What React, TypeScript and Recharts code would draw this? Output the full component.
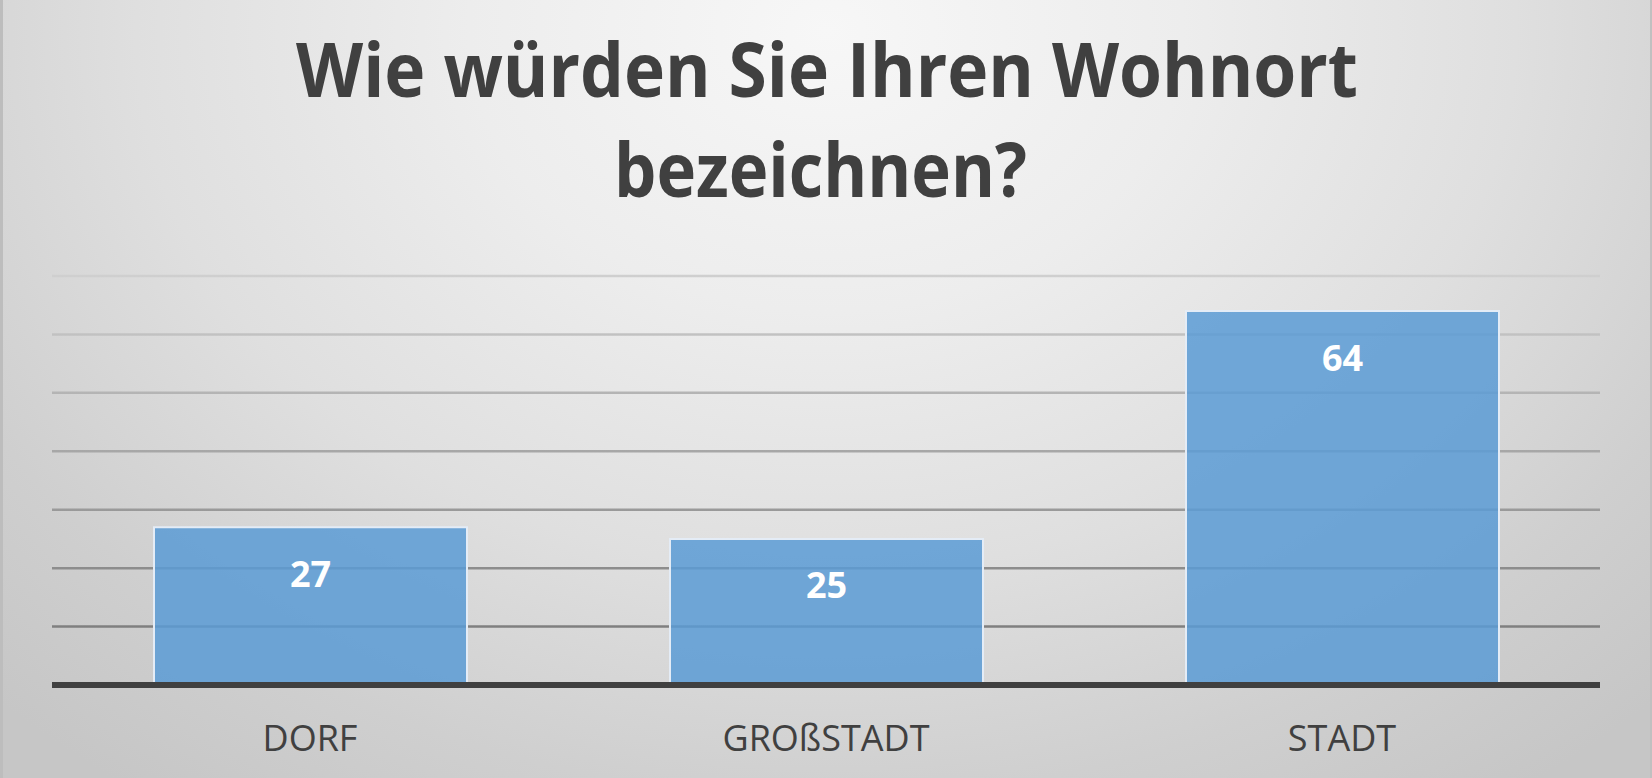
import React from "react";
import { BarChart, Bar, XAxis, YAxis, CartesianGrid, LabelList } from "recharts";

const categories = ["DORF", "GROßSTADT", "STADT"];
const values = [27, 25, 64];
const yTicks = [0, 10, 20, 30, 40, 50, 60, 70];
const titleLines = ["Wie würden Sie Ihren Wohnort", "bezeichnen?"];

const data = categories.map((name, i) => ({ name, value: values[i] }));

const W = 1652;
const H = 778;

export default function App() {
  return (
    <div
      style={{
        position: "relative",
        width: W,
        height: H,
        overflow: "hidden",
        background:
          "radial-gradient(ellipse 72% 120% at 50% 4%, #f7f7f7 0%, #ededed 30%, #dfdfdf 58%, #cfcfcf 82%, #c6c6c6 100%)",
        boxShadow: "inset 3px 0 0 #bdbdbd, inset -2px 0 0 #c0c0c0",
      }}
    >
      <style>{`body{margin:0;}`}</style>
      <BarChart
        width={W}
        height={H}
        data={data}
        margin={{ top: 276, right: 52, left: 52, bottom: 0 }}
      >
        <defs>
          <linearGradient id="gridGrad" gradientUnits="userSpaceOnUse" x1="0" y1="276" x2="0" y2="685">
            <stop offset="0%" stopColor="#cfcfcf" />
            <stop offset="100%" stopColor="#727272" />
          </linearGradient>
        </defs>
        <CartesianGrid vertical={false} stroke="url(#gridGrad)" strokeWidth={2.5} />
        <YAxis hide domain={[0, 70]} ticks={yTicks} type="number" />
        <XAxis
          dataKey="name"
          interval={0}
          height={93}
          tickLine={false}
          tickSize={0}
          tickMargin={40}
          axisLine={{ stroke: "#404040", strokeWidth: 6 }}
          tick={{ fill: "#404040", fontSize: 36, fontFamily: "Open Sans" }}
        />
        <Bar
          dataKey="value"
          barSize={313}
          fill="#5b9bd5"
          fillOpacity={0.85}
          stroke="#e4ecf6"
          strokeWidth={2}
          isAnimationActive={false}
        >
          <LabelList
            dataKey="value"
            position="insideTop"
            offset={34}
            fill="#ffffff"
            fontSize={36}
            fontWeight={700}
            fontFamily="Open Sans"
          />
        </Bar>
      </BarChart>
      <svg
        width={W}
        height={H}
        style={{ position: "absolute", left: 0, top: 0, pointerEvents: "none" }}
      >
        <text
          x={296}
          y={97}
          textLength={1062}
          lengthAdjust="spacingAndGlyphs"
          fill="#404040"
          fontFamily="Open Sans"
          fontWeight={700}
          fontSize={76}
        >
          {titleLines[0]}
        </text>
        <text
          x={614}
          y={197}
          textLength={413}
          lengthAdjust="spacingAndGlyphs"
          fill="#404040"
          fontFamily="Open Sans"
          fontWeight={700}
          fontSize={76}
        >
          {titleLines[1]}
        </text>
      </svg>
    </div>
  );
}
